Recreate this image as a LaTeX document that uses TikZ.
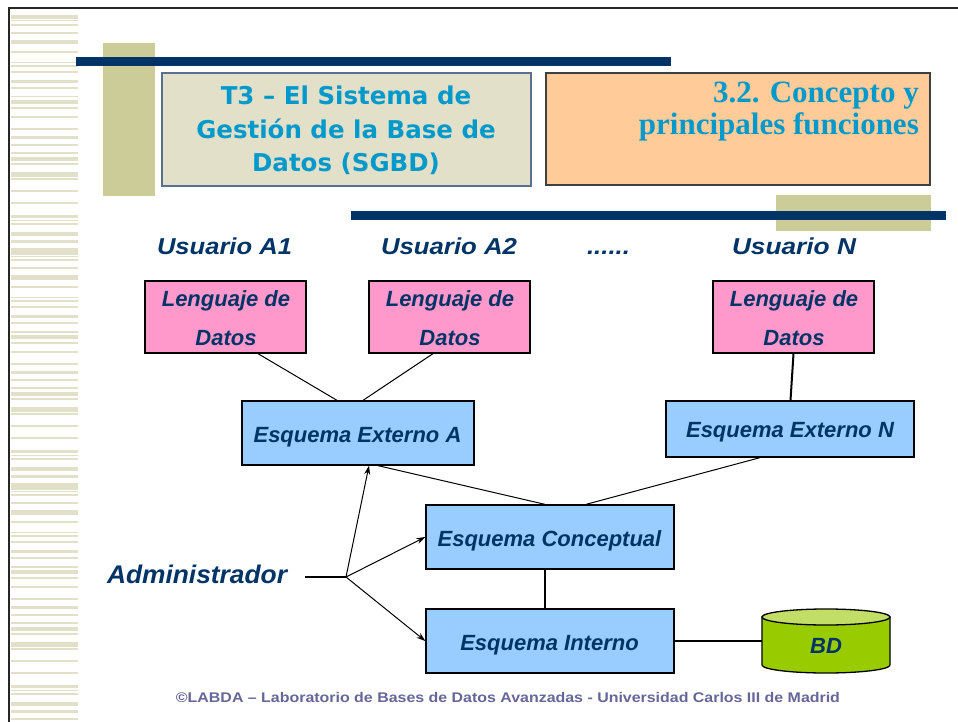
\documentclass[tikz,border=0pt]{standalone}
\usepackage{fontspec}
\setmainfont{Liberation Sans}
\newfontfamily\tahomaish{DejaVu Sans}
\newfontfamily\timesish{Liberation Serif}
\usepackage{graphicx}
\usetikzlibrary{arrows.meta}
\definecolor{navy}{HTML}{003366}
\definecolor{stripe}{HTML}{E2E0C8}
\definecolor{khaki}{HTML}{CCCC99}
\definecolor{tblue}{HTML}{0099CC}
\definecolor{peach}{HTML}{FFCC99}
\definecolor{pinkf}{HTML}{FF99CC}
\definecolor{bluef}{HTML}{99CCFF}
\definecolor{bdgreen}{HTML}{99CC00}
\definecolor{bdtop}{HTML}{C2DE66}
\definecolor{foot}{HTML}{666699}
\definecolor{tborder}{HTML}{5A7090}
\newcommand{\fitw}[2]{\resizebox{#1}{\height}{#2}}
\begin{document}
\begin{tikzpicture}[x=1pt,y=-1pt,
  dtext/.style={text=navy,font=\fontsize{22}{26}\selectfont\bfseries\itshape,inner sep=0pt,anchor=base},
  utext/.style={text=navy,font=\fontsize{23}{26}\selectfont\bfseries\itshape,inner sep=0pt,anchor=base},
  ttext/.style={text=tblue,font=\tahomaish\bfseries\fontsize{24.5}{30}\selectfont,inner sep=0pt,anchor=base},
  t2text/.style={text=tblue,font=\timesish\bfseries\fontsize{31}{34}\selectfont,inner sep=0pt,anchor=base east},
  box/.style={draw=black,line width=1.3pt,inner sep=0pt},
  pinkbox/.style={box,fill=pinkf,minimum width=161pt,minimum height=72pt},
  bluebox/.style={box,fill=bluef,minimum width=248pt,minimum height=64pt},
  thinline/.style={line width=1pt},
  thickline/.style={line width=2pt},
  arr/.style={line width=1pt,-{Stealth[length=9pt,width=6pt]}}
]
\useasboundingbox (0,0) rectangle (958,722);
\fill[white] (0,0) rectangle (958,722);
% stripes
\foreach \o in {0,235,470}{
  \foreach \a/\b in {15/19.5,20.5/21.5,24/26,32/34,40/44.5,51/53,62/63,65/67,71/73,80/83,87/89,96/97.5,100/104,107/109,116/118,128/130,136/139,144/146,152/154,157/161,163/165,172/177,178/180,190/192,202/204,215/218,220/221,223/225,232/236,240/243,248/250}{
    \fill[stripe] (11,{\a+\o}) rectangle (78,{\b+\o});
  }
}
% frame
\draw[line width=2pt,black!85] (9,722) -- (9,8) -- (958,8);
% header decorations
\fill[khaki] (103,43) rectangle (155,196);
\fill[navy] (76,57) rectangle (671,66);
\node[draw=tborder,line width=1.3pt,fill=stripe,minimum width=369pt,minimum height=113pt,inner sep=0pt] (t1) at (346.5,129.5) {};
\node[ttext] (t1a) at (346,105) {T3 – El Sistema de};
\node[ttext] (t1b) at (346,138.5) {Gestión de la Base de};
\node[ttext] (t1c) at (346,172) {Datos (SGBD)};
\node[draw=black!75,line width=1.3pt,fill=peach,minimum width=384pt,minimum height=112pt,inner sep=0pt] (t2) at (738,129) {};
\node[t2text] (t2a) at (919,103) {3.2. Concepto y};
\node[t2text] (t2b) at (919,135) {principales funciones};
\fill[khaki] (776,195) rectangle (931,231);
\fill[navy] (351,211) rectangle (946,220);
% users
\node[utext] (u1) at (224.5,254) {\fitw{135pt}{Usuario A1}};
\node[utext] (u2) at (449,254) {\fitw{136pt}{Usuario A2}};
\node[utext] (udots) at (608.5,254) {\fitw{43pt}{......}};
\node[utext] (un) at (794,254) {\fitw{124pt}{Usuario N}};
% language boxes
\node[pinkbox] (l1) at (225.5,317) {};
\node[dtext] (l1a) at (226,306) {Lenguaje de};
\node[dtext] (l1b) at (226,345) {Datos};
\node[pinkbox] (l2) at (449.5,317) {};
\node[dtext] (l2a) at (450,306) {Lenguaje de};
\node[dtext] (l2b) at (450,345) {Datos};
\node[pinkbox] (l3) at (793.5,317) {};
\node[dtext] (l3a) at (794,306) {Lenguaje de};
\node[dtext] (l3b) at (794,345) {Datos};
% schema boxes
\node[bluebox,minimum width=232pt] (ea) at (358,433) {};
\node[dtext] (eat) at (357.5,442) {Esquema Externo A};
\node[bluebox,minimum height=56pt] (en) at (790,429) {};
\node[dtext] (ent) at (790,437) {Esquema Externo N};
\node[bluebox] (ec) at (550,537) {};
\node[dtext] (ect) at (549.5,546) {Esquema Conceptual};
\node[bluebox] (ei) at (550,641) {};
\node[dtext] (eit) at (549.5,650) {Esquema Interno};
% BD cylinder
\node[minimum width=128pt,minimum height=64pt,inner sep=0pt] (bd) at (826,641) {};
\draw[line width=1.3pt,fill=bdgreen] (762,617) -- (762,665) arc[start angle=180,end angle=0,x radius=64,y radius=8] -- (890,617) -- cycle;
\draw[line width=1.3pt,fill=bdtop] (826,617) ellipse [x radius=64,y radius=8];
\node[dtext] (bdt) at (826,653) {BD};
% connectors
\draw[thinline] ([xshift=32.5pt]l1.south) -- ([xshift=-21pt]ea.north);
\draw[thinline] ([xshift=-16.5pt]l2.south) -- ([xshift=5pt]ea.north);
\draw[thickline] (l3.south) -- ([xshift=0.5pt]en.north);
\draw[thinline] ([xshift=20pt]ea.south) -- ([xshift=-5pt]ec.north);
\draw[thinline] ([xshift=-30pt]en.south) -- ([xshift=36pt]ec.north);
\draw[thickline] ([xshift=-5pt]ec.south) -- ([xshift=-5pt]ei.north);
\draw[thickline] (ei.east) -- (bd.west);
% administrator
\node[text=navy,font=\fontsize{25.5}{30}\selectfont\bfseries\itshape,inner sep=0pt,anchor=base] (adm) at (197,583) {\fitw{180pt}{Administrador}};
\coordinate (a0) at (305,577);
\coordinate (br) at (346,577);
\draw[thickline] (a0) -- (br);
\draw[arr] (br) -- ([xshift=11pt]ea.south);
\draw[arr] (br) -- (ec.west);
\draw[arr] (br) -- (ei.west);
% footer
\node[text=foot,font=\fontsize{14}{16}\selectfont\bfseries,inner sep=0pt,anchor=base] (foot) at (508,702) {\fitw{664pt}{©LABDA – Laboratorio de Bases de Datos Avanzadas - Universidad Carlos III de Madrid}};
\end{tikzpicture}
\end{document}
